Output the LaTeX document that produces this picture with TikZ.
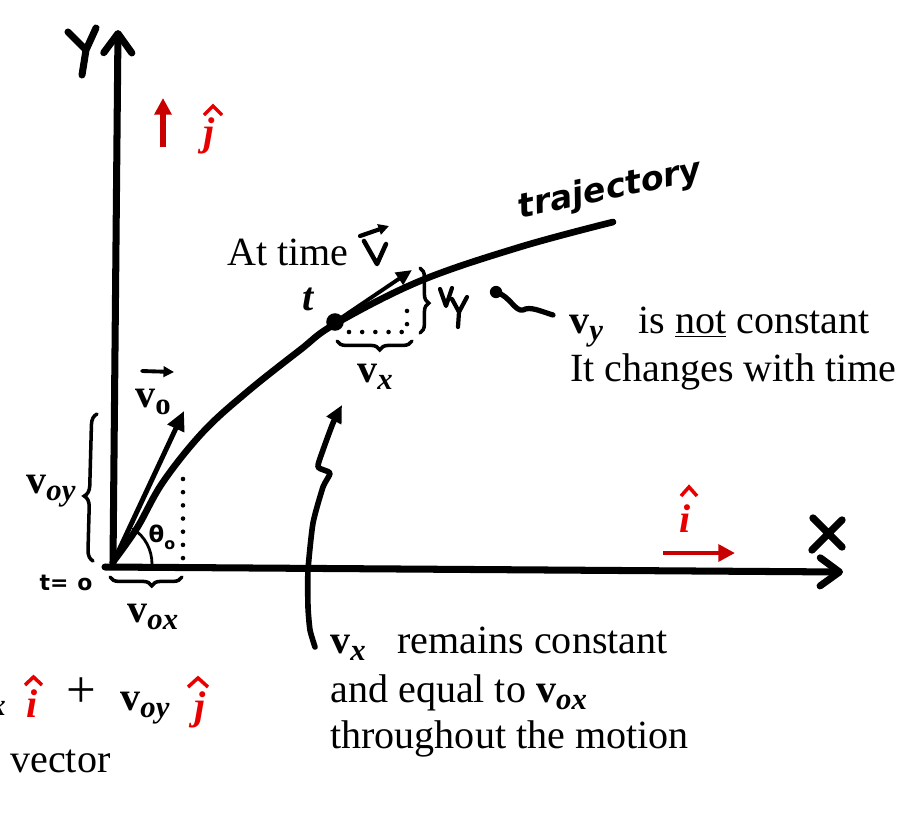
\documentclass[tikz,border=0pt]{standalone}
\usepackage{fontspec}
\setmainfont{Liberation Serif}
\newfontfamily\handfont{DejaVu Sans}
\usetikzlibrary{arrows.meta,decorations.pathreplacing}
\definecolor{hatred}{RGB}{232,0,0}
\definecolor{arrred}{RGB}{200,0,0}
\newcommand\bigtxt{\fontsize{22.8}{27}\selectfont}
\newcommand\vb{\textbf{v}}
\newcommand\sbi[1]{\raisebox{-0.18em}{\fontsize{17.5}{17.5}\selectfont\bfseries\itshape #1}}
\newcommand\sbo[1]{\raisebox{-0.18em}{\fontsize{17.5}{17.5}\selectfont\bfseries #1}}
\begin{document}
\begin{tikzpicture}[x=0.02cm,y=-0.02cm,
  txt/.style={inner sep=0pt, anchor=base west, font=\bigtxt},
  pen/.style={line width=#1, line cap=round, line join=round},
  axisline/.style={line width=4pt, line cap=round, -{Straight Barb[round,length=11pt,width=16pt]}},
  bracepen/.style={line width=2pt, line cap=round, decorate},
  dots/.style={line width=2.6pt, line cap=round, dash pattern=on 0pt off 7.5pt},
  hatpen/.style={hatred, line width=2pt, line cap=butt, line join=miter},
  redletter/.style={inner sep=0pt, anchor=base, text=hatred, font=\bigtxt\bfseries\itshape},
  redarrow/.style={arrred, line width=#1, -{Triangle[length=9.5pt,width=9.5pt]}},
  blob/.style={circle, fill=black, inner sep=0pt, minimum size=#1},
  handlbl/.style={inner sep=0pt, font=\handfont\bfseries\fontsize{#1}{#1}\selectfont}
]
\useasboundingbox (0,0) rectangle (899,812);
\clip (0,0) rectangle (899,812);
\fill[white] (0,0) rectangle (899,812);

% axes
\coordinate (O) at (113,563);
\coordinate (Ytip) at (118,30);
\coordinate (Xs) at (105,567);
\coordinate (Xtip) at (843,572);
\draw[axisline] (O) -- (Ytip);
\draw[axisline] (Xs) -- (Xtip);
% hand-drawn axis letters
\draw[pen=4pt] (68,32) -- (86,50) (96,28) -- (86,50) -- (82,75);
\draw[pen=4.2pt] (813,518) -- (842,547) (842,520) -- (812,550);

% trajectory
\draw[pen=3.8pt] plot[smooth, tension=0.6] coordinates {(113,562) (137,528) (163,482) (203,432) (247,392) (300,350) (335,324) (420,281) (520,247) (613,222)};
\node[rotate=12, inner sep=0pt, font=\handfont\bfseries\itshape\fontsize{19}{19}\selectfont] (trajlbl) at (610,190) {trajectory};

% initial velocity
\coordinate (V0tip) at (184,411);
\draw[pen=2.8pt, -{Triangle[length=11pt,width=10pt]}] (O) -- (V0tip);
\node[txt] (v0lbl) at (135,407) {\vb\sbo{o}};
\coordinate (v0a) at (142,371);
\coordinate (v0b) at (174,372);
\draw[pen=2.2pt, -{Triangle[length=6pt,width=6pt]}] (v0a) -- (v0b);
\coordinate (dv1) at (183,479);
\coordinate (dv2) at (183,560);
\draw[dots] (dv1) -- (dv2);
\coordinate (arcA) at (152,564);
\coordinate (arcB) at (133,529);
\draw[pen=1.6pt] (arcA) .. controls (152,550) and (145,536) .. (arcB);
\node[handlbl=13] (theta) at (162,537) {θ\raisebox{-0.3em}{\fontsize{9}{9}\selectfont o}};

% components at origin
\coordinate (by1) at (93,561);
\coordinate (by2) at (97,414);
\draw[bracepen, decoration={brace, amplitude=6pt, aspect=0.44}] (by1) -- (by2);
\node[txt] (voy) at (26,493) {\vb\sbi{oy}};
\coordinate (bx1) at (182,577);
\coordinate (bx2) at (110,577);
\draw[bracepen, decoration={brace, amplitude=5pt, aspect=0.42}] (bx1) -- (bx2);
\node[txt] (vox) at (127,622) {\vb\sbi{ox}};
\node[handlbl=12.5] (t0) at (66,583) {t=\hspace{5pt}o};

% point at time t
\node[txt] (attime) at (227,265) {At time};
\draw[pen=2.6pt] (364,241) -- (377,264) -- (386,244);
\coordinate (va1) at (360,236);
\coordinate (va2) at (389,226);
\draw[pen=2.4pt, -{Triangle[length=6pt,width=6pt]}] (va1) -- (va2);
\node[txt, font=\bigtxt\bfseries\itshape] (tlbl) at (302,310) {t};
\node[blob=10pt] (dot) at (335,322) {};
\coordinate (vtip) at (412,270);
\draw[pen=2.2pt, -{Triangle[length=9pt,width=8pt]}] (dot.center) -- (vtip);
\coordinate (d1) at (349,332);
\coordinate (d2) at (407,332);
\coordinate (d3) at (407,300);
\draw[dots] (d1) -- (d2) -- (d3);
\coordinate (bvx1) at (412,341);
\coordinate (bvx2) at (337,341);
\draw[bracepen, decoration={brace, amplitude=5pt, aspect=0.43}] (bvx1) -- (bvx2);
\node[txt] (vxlbl) at (357,382) {\vb\sbi{x}};
\coordinate (bvy1) at (420,268);
\coordinate (bvy2) at (420,333);
\draw[bracepen, decoration={brace, amplitude=5pt, aspect=0.54}] (bvy1) -- (bvy2);
\draw[pen=2.4pt] (440,289) -- (446,306) -- (452,288) (452,299) -- (459,312) (467,297) -- (459,312) -- (458,327);
\node[blob=7pt] (sq) at (496,292) {};
\coordinate (sqend) at (553,315);
\draw[pen=3pt] (sq.center) .. controls (510,296) and (515,312) .. (523,310) .. controls (530,306) and (540,311) .. (sqend);

% right texts
\node[txt] (vy) at (569,333) {\vb\sbi{y}};
\node[txt] (notc) at (638,333) {is \underline{not} constant};
\node[txt] (itch) at (570,381) {It changes with time};

% pointer to v_x text
\draw[pen=3.2pt, -{Triangle[length=10pt,width=9pt]}] plot[smooth, tension=0.35] coordinates {(315,647) (310,630) (308,607) (308,570) (313,523) (323,487) (330,473) (318,467) (323,450) (333,423) (342,405)};
\node[txt] (vxr) at (330,653) {\vb\sbi{x}};
\node[txt] (rem) at (397,653) {remains constant};
\node[txt] (eq) at (330,702) {and equal to \vb\sbi{ox}};
\node[txt] (thr) at (330,748) {throughout the motion};

% unit vectors
\coordinate (ja) at (163,147);
\coordinate (jb) at (163,98);
\draw[redarrow=3.4pt] (ja) -- (jb);
\node[redletter] (jhat) at (209,145) {j};
\draw[hatpen] (204,115) -- (213,106) -- (222,115);
\coordinate (ia) at (663,553);
\coordinate (ib) at (735,553);
\draw[redarrow=2.8pt] (ia) -- (ib);
\node[redletter] (ihat) at (685,532) {i};
\draw[hatpen] (681,496) -- (689,487) -- (697,496);

% bottom-left formula (cut off at the left edge)
\node[txt, anchor=base east] (voxcut) at (6,708) {\vb\sbi{ox}};
\node[redletter] (ihat2) at (32,717) {i};
\draw[hatpen] (25,685) -- (33.5,677) -- (42,685);
\node[txt, anchor=base, font=\fontsize{30}{30}\selectfont] (plus) at (81,707) {+};
\node[txt] (voy2) at (120,710) {\vb\sbi{oy}};
\node[redletter] (jhat2) at (200,719) {j};
\draw[hatpen] (188,687) -- (198,678) -- (208,687);
\node[txt] (vec) at (10,772) {vector};
\end{tikzpicture}
\end{document}
